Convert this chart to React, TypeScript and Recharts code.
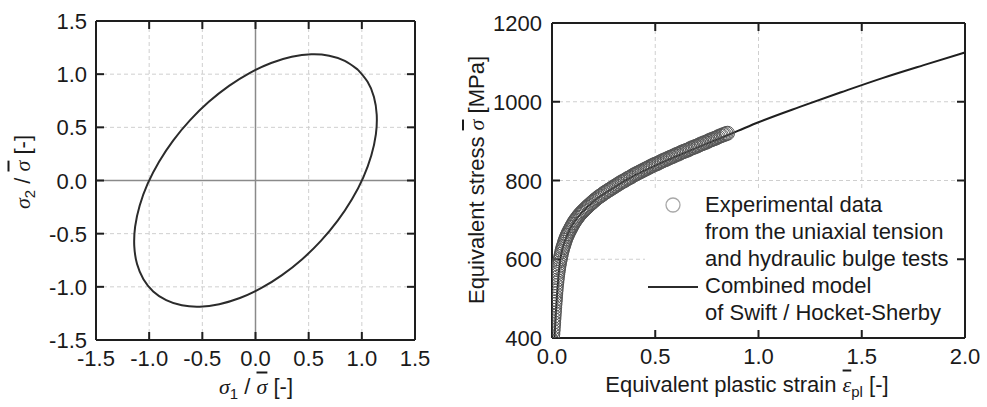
import React from "react";
import {
  CartesianGrid,
  ComposedChart,
  Line,
  LineChart,
  ReferenceLine,
  Scatter,
  XAxis,
  YAxis,
} from "recharts";

// yield locus, normalised stresses
const locusS1 = [
  0.962, 0.84, 0.693, 0.525, 0.341, 0.147, -0.052, -0.249, -0.439, -0.615,
  -0.773, -0.907, -1.014, -1.089, -1.132, -1.14, -1.114, -1.054, -0.962,
  -0.84, -0.693, -0.525, -0.341, -0.147, 0.052, 0.249, 0.439, 0.615, 0.773,
  0.907, 1.014, 1.089, 1.132, 1.14, 1.114, 1.054, 0.962,
];
const locusS2 = [
  1.043, 1.125, 1.174, 1.187, 1.163, 1.105, 1.013, 0.89, 0.74, 0.568, 0.378,
  0.177, -0.03, -0.235, -0.434, -0.619, -0.786, -0.928, -1.043, -1.125,
  -1.174, -1.187, -1.163, -1.105, -1.013, -0.89, -0.74, -0.568, -0.378,
  -0.177, 0.03, 0.235, 0.434, 0.619, 0.786, 0.928, 1.043,
];

// Swift / Hocket-Sherby model
const modelStrain = [
  0.008, 0.012, 0.016, 0.02, 0.025, 0.031, 0.039, 0.05, 0.065, 0.085, 0.11,
  0.14, 0.18, 0.22, 0.27, 0.33, 0.4, 0.5, 0.6, 0.7, 0.8, 0.9, 1.0, 1.2, 1.4,
  1.6, 1.8, 2.0,
];
const modelStress = [
  355, 400, 440, 475, 515, 555, 595, 625, 650, 675, 697, 716, 737, 755, 772,
  792, 813, 838, 861, 883, 904, 926, 948, 987, 1024, 1060, 1093, 1125,
];

// uniaxial tension test
const tensionStrain = [
  0.002, 0.004, 0.006, 0.008, 0.01, 0.012, 0.014, 0.016, 0.018, 0.02, 0.023,
  0.026, 0.029, 0.032, 0.036, 0.04, 0.045, 0.05, 0.055, 0.061, 0.067, 0.074,
  0.081, 0.089, 0.097, 0.106, 0.115, 0.125, 0.135, 0.146, 0.157, 0.169,
  0.181, 0.194, 0.207, 0.221, 0.235, 0.25, 0.265, 0.28, 0.295, 0.31, 0.325,
  0.34, 0.355, 0.37, 0.385, 0.4, 0.415, 0.43, 0.445, 0.46, 0.475, 0.49,
  0.505, 0.52, 0.535, 0.55, 0.565, 0.58, 0.595, 0.61, 0.625, 0.64, 0.655,
  0.67, 0.685, 0.7, 0.715, 0.73, 0.745, 0.76, 0.775, 0.79, 0.805, 0.82,
  0.835, 0.85,
];
const tensionStress = [
  392, 410, 425, 440, 455, 470, 485, 498, 512, 525, 540, 554, 567, 578, 590,
  601, 613, 624, 633, 643, 652, 661, 669, 677, 685, 693, 700, 707, 714, 720,
  726, 732, 738, 744, 750, 756, 761, 767, 772, 777, 782, 787, 792, 797, 801,
  806, 810, 815, 819, 823, 827, 831, 835, 839, 842, 846, 850, 853, 857, 860,
  864, 867, 871, 874, 877, 881, 884, 887, 891, 894, 897, 901, 904, 907, 911,
  914, 917, 920,
];

// hydraulic bulge test
const bulgeStrain = [
  0.003, 0.005, 0.007, 0.009, 0.011, 0.013, 0.015, 0.017, 0.019, 0.0215,
  0.0245, 0.0275, 0.0305, 0.034, 0.038, 0.0425, 0.0475, 0.0525, 0.058,
  0.064, 0.0705, 0.0775, 0.085, 0.093, 0.1015, 0.1105, 0.12, 0.13, 0.1405,
  0.1515, 0.163, 0.175, 0.1875, 0.2005, 0.214, 0.228, 0.2425, 0.258, 0.273,
  0.288, 0.303, 0.318, 0.333, 0.348, 0.363, 0.378, 0.393, 0.408, 0.423,
  0.438, 0.453, 0.468, 0.483, 0.498, 0.513, 0.528, 0.543, 0.558, 0.573,
  0.588, 0.603, 0.618, 0.633, 0.648, 0.663, 0.678, 0.693, 0.708, 0.723,
  0.738, 0.753, 0.768, 0.783, 0.798, 0.813, 0.828, 0.843,
];
const bulgeStress = [
  401, 418, 433, 448, 463, 478, 492, 505, 519, 533, 547, 561, 573, 584, 596,
  607, 619, 629, 638, 648, 657, 665, 673, 681, 689, 697, 704, 711, 717, 723,
  729, 735, 741, 747, 753, 759, 764, 770, 775, 780, 785, 790, 795, 799, 804,
  808, 813, 817, 821, 825, 829, 833, 837, 841, 844, 848, 852, 855, 859, 862,
  866, 869, 873, 876, 879, 883, 886, 889, 893, 896, 899, 903, 906, 909, 913,
  916, 919,
];

const locusTicks = [-1.5, -1.0, -0.5, 0, 0.5, 1.0, 1.5];
const strainTicks = [0, 0.5, 1.0, 1.5, 2.0];
const stressTicks = [400, 600, 800, 1000, 1200];

const locus = locusS1.map((s1, i) => ({ s1, s2: locusS2[i] }));
const model = modelStrain.map((e, i) => ({ e, s: modelStress[i] }));
const tension = tensionStrain.map((e, i) => ({ e, s: tensionStress[i] }));
const bulge = bulgeStrain.map((e, i) => ({ e, s: bulgeStress[i] }));

const SANS = "'Liberation Sans', Arial, sans-serif";
const SERIF = "'Liberation Serif', 'Times New Roman', serif";
const INK = "#1a1a1a";
const FRAME = "#1e1e1e";
const frameLine = { stroke: FRAME, strokeWidth: 2 };
const TICK_LEN = 8;

const XTickLabel = (fmt: (v: number) => string) => (p: any) => (
  <text
    x={p.x}
    y={p.y + 16}
    textAnchor="middle"
    fontSize={22}
    fontFamily={SANS}
    fill={INK}
  >
    {fmt(p.payload.value)}
  </text>
);

const YTickLabel = (fmt: (v: number) => string) => (p: any) => (
  <text
    x={p.x}
    y={p.y + 8}
    textAnchor="end"
    fontSize={22}
    fontFamily={SANS}
    fill={INK}
  >
    {fmt(p.payload.value)}
  </text>
);

// inward tick marks at both ends of a reference line (bottom+top or left+right)
const TickStubs = (p: any) => {
  const { x1, y1, x2, y2 } = p;
  if (Math.abs(x1 - x2) < 0.5) {
    const top = Math.min(y1, y2);
    const bottom = Math.max(y1, y2);
    return (
      <g>
        <line x1={x1} x2={x1} y1={top} y2={top + TICK_LEN} {...frameLine} />
        <line x1={x1} x2={x1} y1={bottom} y2={bottom - TICK_LEN} {...frameLine} />
      </g>
    );
  }
  const left = Math.min(x1, x2);
  const right = Math.max(x1, x2);
  return (
    <g>
      <line x1={left} x2={left + TICK_LEN} y1={y1} y2={y1} {...frameLine} />
      <line x1={right} x2={right - TICK_LEN} y1={y1} y2={y1} {...frameLine} />
    </g>
  );
};

const fmt1 = (v: number) => v.toFixed(1);
const fmt0 = (v: number) => String(v);

const Sig = ({ bar }: { bar?: boolean }) => (
  <span
    style={{
      fontFamily: SERIF,
      fontStyle: "italic",
      textDecoration: bar ? "overline" : "none",
    }}
  >
    σ
  </span>
);

const label = (x: number, y: number, rotate: boolean): React.CSSProperties => ({
  position: "absolute",
  left: x,
  top: y,
  transform: `translate(-50%, -50%)${rotate ? " rotate(-90deg)" : ""}`,
  whiteSpace: "nowrap",
  fontFamily: SANS,
  fontSize: 22,
  color: INK,
  lineHeight: "26px",
});

const sub: React.CSSProperties = { fontSize: 15, verticalAlign: "-5px" };

function LocusPlot() {
  return (
    <LineChart
      width={450}
      height={407}
      data={locus}
      margin={{ top: 21, right: 35, bottom: 0, left: 0 }}
    >
      <CartesianGrid stroke="#cfcfcf" strokeDasharray="4 3" />
      <XAxis
        dataKey="s1"
        type="number"
        domain={[-1.5, 1.5]}
        ticks={locusTicks}
        interval={0}
        allowDataOverflow
        height={67}
        tickSize={0}
        tickMargin={10}
        tickLine={false}
        axisLine={frameLine}
        tick={XTickLabel(fmt1)}
      />
      <YAxis
        type="number"
        domain={[-1.5, 1.5]}
        ticks={locusTicks}
        interval={0}
        allowDataOverflow
        width={96}
        tickSize={0}
        tickMargin={9}
        tickLine={false}
        axisLine={frameLine}
        tick={YTickLabel(fmt1)}
      />
      <ReferenceLine x={0} stroke="#8a8a8a" strokeWidth={1.5} />
      <ReferenceLine y={0} stroke="#8a8a8a" strokeWidth={1.5} />
      {locusTicks.map((v) => (
        <ReferenceLine key={`x${v}`} x={v} shape={TickStubs} />
      ))}
      {locusTicks.map((v) => (
        <ReferenceLine key={`y${v}`} y={v} shape={TickStubs} />
      ))}
      <ReferenceLine x={1.5} {...frameLine} />
      <ReferenceLine y={1.5} {...frameLine} />
      <Line
        dataKey="s2"
        type="natural"
        stroke="#2b2b2b"
        strokeWidth={2}
        dot={false}
        isAnimationActive={false}
      />
    </LineChart>
  );
}

const Ring = (props: any) => (
  <circle
    cx={props.cx}
    cy={props.cy}
    r={7}
    fill="none"
    stroke="#555"
    strokeWidth={1}
  />
);

function FlowPlot() {
  return (
    <ComposedChart
      width={527}
      height={407}
      margin={{ top: 23, right: 22, bottom: 0, left: 0 }}
    >
      <CartesianGrid stroke="#cfcfcf" strokeDasharray="4 3" />
      <XAxis
        dataKey="e"
        type="number"
        domain={[0, 2]}
        ticks={strainTicks}
        interval={0}
        allowDataOverflow
        height={69}
        tickSize={0}
        tickMargin={10}
        tickLine={false}
        axisLine={frameLine}
        tick={XTickLabel(fmt1)}
      />
      <YAxis
        dataKey="s"
        type="number"
        domain={[400, 1200]}
        ticks={stressTicks}
        interval={0}
        allowDataOverflow
        width={92}
        tickSize={0}
        tickMargin={10}
        tickLine={false}
        axisLine={frameLine}
        tick={YTickLabel(fmt0)}
      />
      {strainTicks.map((v) => (
        <ReferenceLine key={`x${v}`} x={v} shape={TickStubs} />
      ))}
      {stressTicks.map((v) => (
        <ReferenceLine key={`y${v}`} y={v} shape={TickStubs} />
      ))}
      <ReferenceLine x={2} {...frameLine} />
      <ReferenceLine y={1200} {...frameLine} />
      <Scatter data={tension} shape={Ring} isAnimationActive={false} />
      <Scatter data={bulge} shape={Ring} isAnimationActive={false} />
      <Line
        data={model}
        dataKey="s"
        type="monotone"
        stroke="#1f1f1f"
        strokeWidth={2}
        dot={false}
        isAnimationActive={false}
      />
    </ComposedChart>
  );
}

export default function App() {
  return (
    <div
      style={{
        position: "absolute",
        left: 0,
        top: 0,
        width: 987,
        height: 407,
        background: "#fff",
        overflow: "hidden",
      }}
    >
      <div style={{ position: "absolute", left: 0, top: 0 }}>
        <LocusPlot />
      </div>
      <div style={{ position: "absolute", left: 460, top: 0 }}>
        <FlowPlot />
      </div>

      <div style={label(256, 390, false)}>
        <Sig />
        <span style={sub}>1</span> / <Sig bar /> [-]
      </div>
      <div style={label(26, 172, true)}>
        <Sig />
        <span style={sub}>2</span> / <Sig bar /> [-]
      </div>
      <div style={label(747, 388, false)}>
        Equivalent plastic strain{" "}
        <span
          style={{
            fontFamily: SERIF,
            fontStyle: "italic",
            textDecoration: "overline",
          }}
        >
          ε
        </span>
        <span style={sub}>pl</span> [-]
      </div>
      <div style={label(477, 180, true)}>
        Equivalent stress <Sig bar /> [MPa]
      </div>

      <div
        style={{
          position: "absolute",
          left: 645,
          top: 190,
          width: 310,
          height: 140,
          background: "#fff",
          fontFamily: SANS,
          fontSize: 22,
          color: INK,
          lineHeight: "27px",
        }}
      >
        <svg
          width={60}
          height={140}
          style={{ position: "absolute", left: 0, top: 0 }}
        >
          <circle cx={28} cy={15} r={7} fill="none" stroke="#a8a8a8" strokeWidth={1.3} />
          <line x1={3} x2={53} y1={97} y2={97} stroke="#2b2b2b" strokeWidth={2} />
        </svg>
        <div style={{ position: "absolute", left: 60, top: 1, whiteSpace: "nowrap" }}>
          <div>Experimental data</div>
          <div>from the uniaxial tension</div>
          <div>and hydraulic bulge tests</div>
          <div>Combined model</div>
          <div>of Swift / Hocket-Sherby</div>
        </div>
      </div>
    </div>
  );
}
